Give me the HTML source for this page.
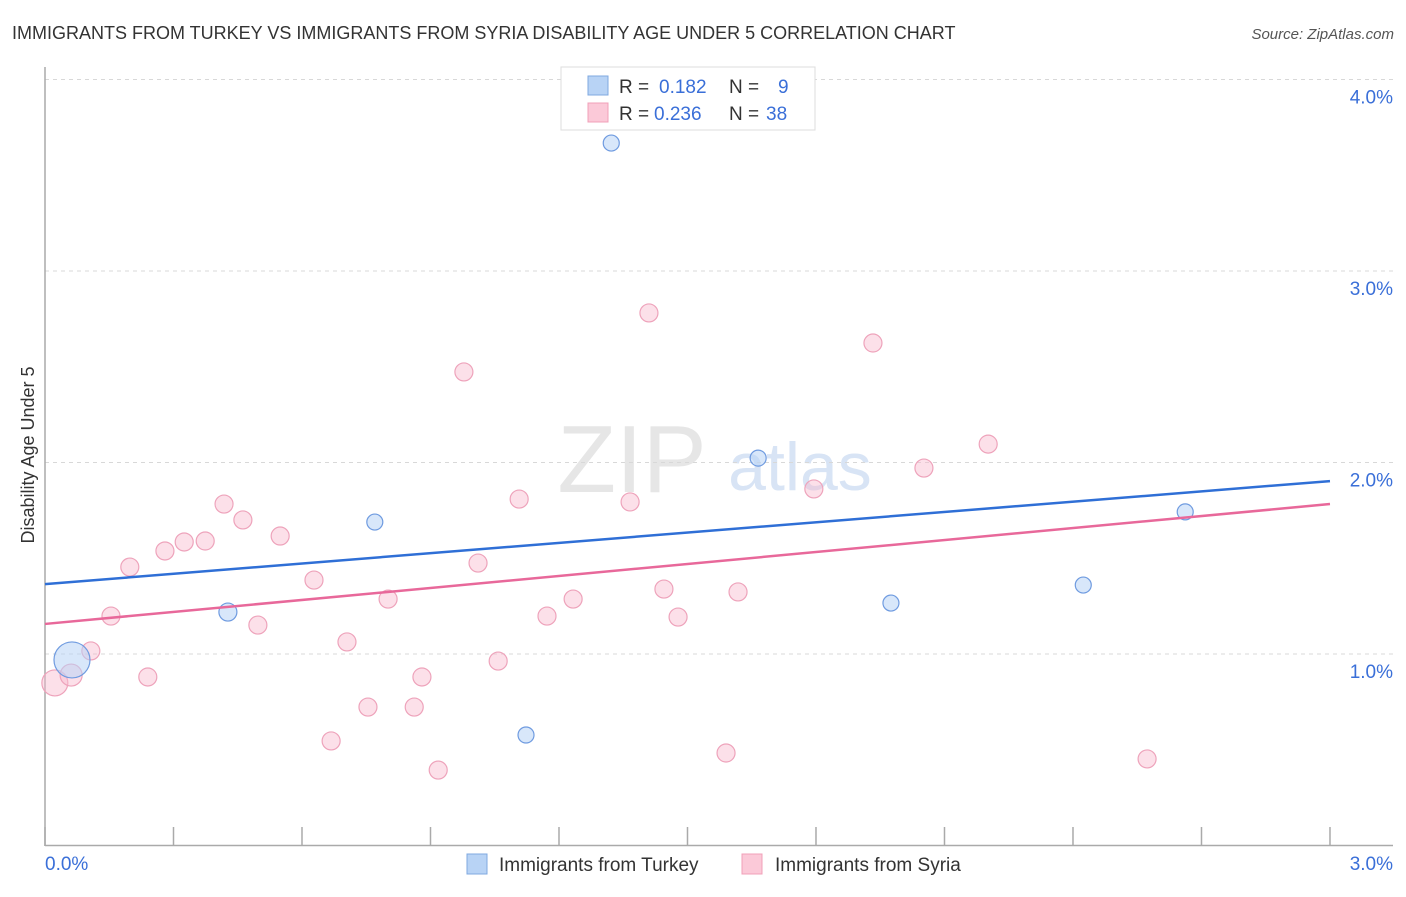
<!DOCTYPE html>
<html><head><meta charset="utf-8"><style>
body{margin:0;background:#fff;font-family:"Liberation Sans",sans-serif;}
svg text{font-family:"Liberation Sans",sans-serif;}
</style></head><body>
<svg id="c" width="1406" height="892" xmlns="http://www.w3.org/2000/svg">
<text x="12" y="39" font-size="18" fill="#333">IMMIGRANTS FROM TURKEY VS IMMIGRANTS FROM SYRIA DISABILITY AGE UNDER 5 CORRELATION CHART</text>
<text x="1394" y="39" font-size="15" fill="#555" font-style="italic" text-anchor="end">Source: ZipAtlas.com</text>
<text x="632" y="492" font-size="96" fill="#e6e6e6" font-family="Liberation Serif" text-anchor="middle">ZIP</text>
<text x="800" y="490" font-size="68" fill="#d8e4f5" text-anchor="middle">atlas</text>
<text transform="translate(34,455) rotate(-90)" font-size="18" fill="#333" text-anchor="middle">Disability Age Under 5</text>
<g id="grid"></g><g id="marks"></g>
<g>
<rect x="561" y="67" width="254" height="63" fill="#fff" stroke="#ddd"/>
<rect x="588" y="76" width="20" height="19" fill="#b8d3f5" stroke="#7fa8e0"/>
<rect x="588" y="103" width="20" height="19" fill="#fbc9d8" stroke="#f0a0b8"/>
<text x="619" y="93" font-size="19" fill="#333">R = </text><text x="659" y="93" font-size="19" fill="#3a6fd8">0.182</text>
<text x="729" y="93" font-size="19" fill="#333">N = </text><text x="778" y="93" font-size="19" fill="#3a6fd8">9</text>
<text x="619" y="120" font-size="19" fill="#333">R = </text><text x="654" y="120" font-size="19" fill="#3a6fd8">0.236</text>
<text x="729" y="120" font-size="19" fill="#333">N = </text><text x="766" y="120" font-size="19" fill="#3a6fd8">38</text>
</g>
<g>
<rect x="467" y="854" width="20" height="20" fill="#b8d3f5" stroke="#7fa8e0"/>
<text x="499" y="871" font-size="19" fill="#333">Immigrants from Turkey</text>
<rect x="742" y="854" width="20" height="20" fill="#fbc9d8" stroke="#f0a0b8"/>
<text x="775" y="871" font-size="19" fill="#333">Immigrants from Syria</text>
</g>
</svg>
<script>
const turkeyX=[0.063,0.427,0.770,1.123,1.322,1.665,1.975,2.424,2.662];
const turkeyY=[0.969,1.219,1.689,0.577,3.668,2.023,1.266,1.360,1.742];
const turkeyR=[18,9,8,8,8,8,8,8,8];
const syriaX=[0.023,0.061,0.107,0.154,0.198,0.240,0.280,0.325,0.374,0.418,0.462,0.497,0.549,0.628,0.668,0.705,0.754,0.801,0.862,0.880,0.918,0.978,1.011,1.058,1.107,1.172,1.233,1.366,1.410,1.445,1.478,1.590,1.618,1.795,1.933,2.052,2.202,2.573];
const syriaY=[0.849,0.890,1.016,1.198,1.454,0.880,1.538,1.585,1.590,1.783,1.700,1.151,1.616,1.386,0.546,1.063,0.723,1.287,0.723,0.880,0.394,2.473,1.475,0.963,1.809,1.198,1.287,1.794,2.781,1.339,1.193,0.483,1.324,1.862,2.624,1.971,2.096,0.452];
const turkeyTrend=[1.365,1.903];
const syriaTrend=[1.157,1.783];
const yTicks=[1,2,3,4];
const yTickLabels=["1.0%","2.0%","3.0%","4.0%"];
const xTicks=[0,0.3,0.6,0.9,1.2,1.5,1.8,2.1,2.4,2.7,3.0];
const NS="http://www.w3.org/2000/svg";
const sx=v=>45+v*428.33, sy=v=>845.5-v*191.5;
function mk(tag,attrs,parent){const e=document.createElementNS(NS,tag);for(const k in attrs)e.setAttribute(k,attrs[k]);parent.appendChild(e);return e;}
const grid=document.getElementById('grid'), marks=document.getElementById('marks');
yTicks.forEach((t,i)=>{
 const l=mk('line',{x1:45,x2:1393,y1:sy(t),y2:sy(t),stroke:'#d8d8d8','stroke-dasharray':'4,4'},grid);
 
 
 const tx=mk('text',{x:1393,y:sy(t)+24,'font-size':19,fill:'#3a6fd8','text-anchor':'end'},grid);
 tx.textContent=yTickLabels[i];
 
 
});
const ax=mk('line',{x1:45,x2:45,y1:67,y2:846,stroke:'#aaa','stroke-width':1.5},grid);


const bx=mk('line',{x1:45,x2:1393,y1:845.5,y2:845.5,stroke:'#aaa','stroke-width':1.5},grid);


xTicks.forEach(t=>{
 const l=mk('line',{x1:sx(t),x2:sx(t),y1:827,y2:846,stroke:'#aaa','stroke-width':1.5},grid);
 
 
});
const xl0=mk('text',{x:45,y:870,'font-size':19,fill:'#3a6fd8'},grid);xl0.textContent='0.0%';


const xl1=mk('text',{x:1393,y:870,'font-size':19,fill:'#3a6fd8','text-anchor':'end'},grid);xl1.textContent='3.0%';


syriaX.forEach((x,i)=>{
 const r=i==0?13:(i==1?11:9);
 const c=mk('circle',{cx:sx(x),cy:sy(syriaY[i]),r:r,fill:'rgba(248,187,206,0.45)',stroke:'#eea3bb','stroke-width':1.2},marks);
 
 
});
turkeyX.forEach((x,i)=>{
 const c=mk('circle',{cx:sx(x),cy:sy(turkeyY[i]),r:turkeyR[i],fill:'rgba(184,211,245,0.55)',stroke:'#6f9be0','stroke-width':1.2},marks);
 
 
});
const tl=mk('line',{x1:sx(0),y1:sy(turkeyTrend[0]),x2:sx(3),y2:sy(turkeyTrend[1]),stroke:'#2f6fd6','stroke-width':2.5},marks);


const pl=mk('line',{x1:sx(0),y1:sy(syriaTrend[0]),x2:sx(3),y2:sy(syriaTrend[1]),stroke:'#e8689a','stroke-width':2.5},marks);


</script>
</body></html>
